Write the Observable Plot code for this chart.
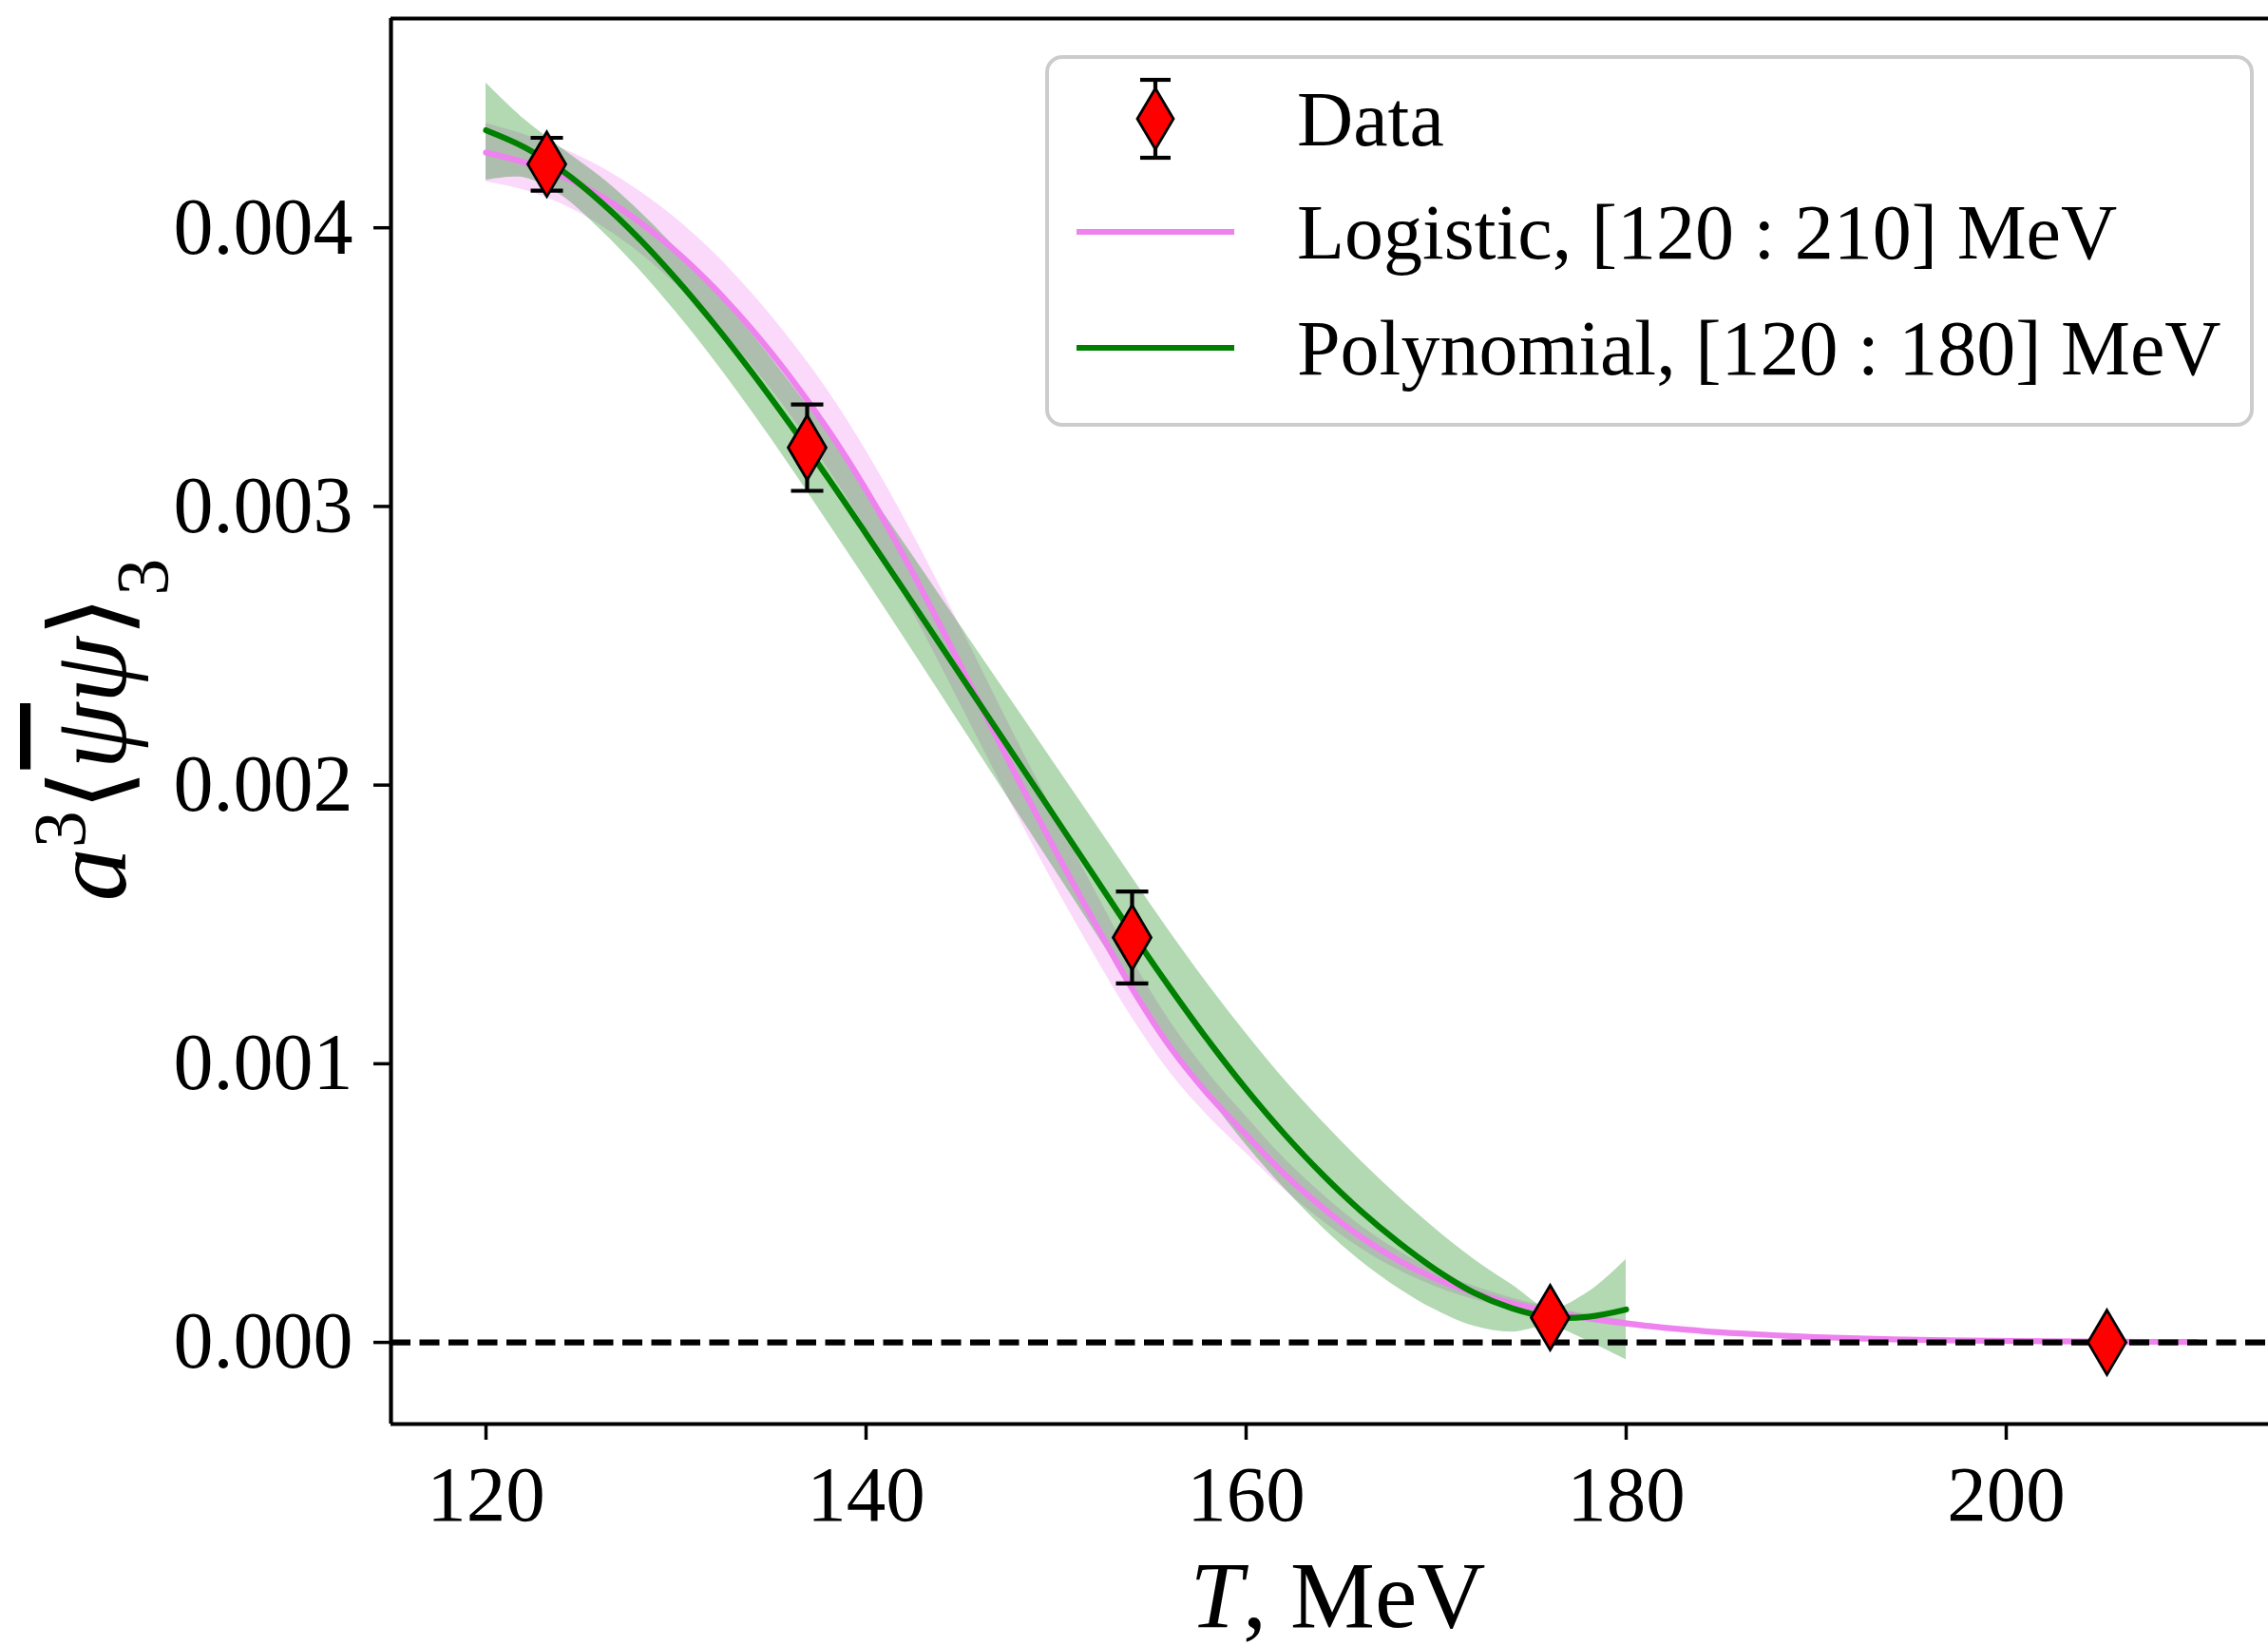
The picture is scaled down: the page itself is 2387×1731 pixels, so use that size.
<!DOCTYPE html>
<html>
<head>
<meta charset="utf-8">
<script src="https://cdn.jsdelivr.net/npm/d3@7"></script>
<script src="https://cdn.jsdelivr.net/npm/@observablehq/plot@0.6"></script>
<style>
  html, body { margin: 0; padding: 0; background: white; }
  svg { display: block; }
</style>
</head>
<body>
<div id="chart"></div>
<script>
// ---------------- data ----------------
const dataT   = [123.2, 136.9, 154.0, 176.0, 205.3];
const dataY   = [0.004228, 0.003211, 0.001453, 0.0000887, 0.0000];
const dataErr = [0.000095, 0.000155, 0.000165, 0.000010, 0.0];

// Logistic fit, [120:210] MeV
const logT  = [120,122,124,126,128,130,132,134,136,138,140,142,144,146,148,150,152,154,156,158,160,162,164,166,168,170,172,174,176,178,180,182,184,186,188,190,194,198,202,206,210];
const logY  = [4.27e-3,4.235e-3,4.185e-3,4.115e-3,4.025e-3,3.915e-3,3.785e-3,3.635e-3,3.465e-3,3.275e-3,3.06e-3,2.82e-3,2.56e-3,2.29e-3,2.02e-3,1.76e-3,1.51e-3,1.27e-3,1.06e-3,0.89e-3,0.745e-3,0.605e-3,0.485e-3,0.38e-3,0.295e-3,0.228e-3,0.178e-3,0.140e-3,0.110e-3,0.087e-3,0.068e-3,0.053e-3,0.041e-3,0.032e-3,0.025e-3,0.019e-3,0.011e-3,0.0065e-3,0.004e-3,0.0025e-3,0.0015e-3];
const logLo = [4.165e-3,4.135e-3,4.085e-3,4.01e-3,3.915e-3,3.797e-3,3.66e-3,3.505e-3,3.33e-3,3.135e-3,2.92e-3,2.68e-3,2.42e-3,2.152e-3,1.886e-3,1.632e-3,1.392e-3,1.165e-3,0.968e-3,0.812e-3,0.679e-3,0.549e-3,0.437e-3,0.339e-3,0.26e-3,0.199e-3,0.154e-3,0.121e-3,0.094e-3,0.074e-3,0.057e-3,0.044e-3,0.033e-3,0.025e-3,0.019e-3,0.014e-3,0.007e-3,0.0035e-3,0.002e-3,0.001e-3,0.0005e-3];
const logHi = [4.375e-3,4.335e-3,4.285e-3,4.22e-3,4.135e-3,4.033e-3,3.91e-3,3.765e-3,3.60e-3,3.415e-3,3.20e-3,2.96e-3,2.70e-3,2.428e-3,2.154e-3,1.888e-3,1.628e-3,1.375e-3,1.152e-3,0.968e-3,0.811e-3,0.661e-3,0.533e-3,0.421e-3,0.33e-3,0.257e-3,0.202e-3,0.159e-3,0.126e-3,0.100e-3,0.079e-3,0.062e-3,0.049e-3,0.039e-3,0.031e-3,0.024e-3,0.015e-3,0.0095e-3,0.006e-3,0.004e-3,0.0025e-3];

// Polynomial fit, [120:180] MeV
const polT  = [120,122,124,126,128,130,132,134,136,138,140,142,144,146,148,150,152,154,156,158,160,162,164,166,168,170,172,174,176,178,180];
const polY  = [4.35e-3,4.29e-3,4.205e-3,4.095e-3,3.965e-3,3.817e-3,3.655e-3,3.48e-3,3.295e-3,3.102e-3,2.902e-3,2.699e-3,2.494e-3,2.289e-3,2.084e-3,1.879e-3,1.674e-3,1.469e-3,1.272e-3,1.084e-3,0.909e-3,0.749e-3,0.604e-3,0.474e-3,0.36e-3,0.26e-3,0.178e-3,0.122e-3,0.09e-3,0.092e-3,0.118e-3];
const polLo = [4.17e-3,4.18e-3,4.115e-3,3.995e-3,3.855e-3,3.697e-3,3.525e-3,3.34e-3,3.145e-3,2.942e-3,2.737e-3,2.529e-3,2.319e-3,2.109e-3,1.899e-3,1.689e-3,1.479e-3,1.269e-3,1.072e-3,0.884e-3,0.709e-3,0.554e-3,0.414e-3,0.294e-3,0.195e-3,0.115e-3,0.058e-3,0.037e-3,0.058e-3,0.004e-3,-0.062e-3];
const polHi = [4.52e-3,4.39e-3,4.285e-3,4.185e-3,4.065e-3,3.927e-3,3.78e-3,3.62e-3,3.445e-3,3.262e-3,3.067e-3,2.869e-3,2.669e-3,2.469e-3,2.269e-3,2.069e-3,1.869e-3,1.669e-3,1.472e-3,1.284e-3,1.109e-3,0.944e-3,0.794e-3,0.654e-3,0.525e-3,0.405e-3,0.298e-3,0.207e-3,0.122e-3,0.18e-3,0.298e-3];

const xTicks = [120, 140, 160, 180, 200];
const yTicks = [0.000, 0.001, 0.002, 0.003, 0.004];
const xDomain = [115, 213.8];
const yDomain = [-0.000293, 0.004751];

const legendLabels = ["Data", "Logistic, [120 : 210] MeV", "Polynomial, [120 : 180] MeV"];

// ---------------- tables ----------------
const points = dataT.map((t, i) => ({T: t, y: dataY[i], lo: dataY[i] - dataErr[i], hi: dataY[i] + dataErr[i]}));
const logistic = logT.map((t, i) => ({T: t, y: logY[i], lo: logLo[i], hi: logHi[i]}));
const poly = polT.map((t, i) => ({T: t, y: polY[i], lo: polLo[i], hi: polHi[i]}));

// custom symbols (pixel-sized)
const thinDiamond = {draw(ctx) { ctx.moveTo(0, -34); ctx.lineTo(20, 0); ctx.lineTo(0, 34); ctx.lineTo(-20, 0); ctx.closePath(); }};
const capSym = {draw(ctx) { ctx.moveTo(-17, 0); ctx.lineTo(17, 0); }};

const FONT = "'Liberation Serif', 'DejaVu Serif', serif";
const LW = 6.2;

const svg = Plot.plot({
  width: 2387,
  height: 1731,
  marginLeft: 411,
  marginRight: 0,
  marginTop: 19,
  marginBottom: 233,
  x: {domain: xDomain},
  y: {domain: yDomain},
  style: {fontFamily: FONT, fontSize: "83px", background: "white", color: "black", overflow: "visible"},
  marks: [
    Plot.areaY(logistic, {x: "T", y1: "lo", y2: "hi", fill: "violet", fillOpacity: 0.3, curve: "catmull-rom"}),
    Plot.areaY(poly, {x: "T", y1: "lo", y2: "hi", fill: "green", fillOpacity: 0.3, curve: "catmull-rom"}),
    Plot.line(logistic, {x: "T", y: "y", stroke: "violet", strokeWidth: LW, curve: "catmull-rom"}),
    Plot.line(poly, {x: "T", y: "y", stroke: "green", strokeWidth: LW, curve: "catmull-rom"}),
    Plot.ruleY([0], {stroke: "black", strokeWidth: LW, strokeDasharray: "21,9.5"}),
    Plot.ruleX(points, {x: "T", y1: "lo", y2: "hi", stroke: "black", strokeWidth: 4.2}),
    Plot.dot(points, {x: "T", y: "lo", symbol: capSym, r: 10, stroke: "black", fill: "none", strokeWidth: 4.2}),
    Plot.dot(points, {x: "T", y: "hi", symbol: capSym, r: 10, stroke: "black", fill: "none", strokeWidth: 4.2}),
    Plot.dot(points, {x: "T", y: "y", symbol: thinDiamond, r: 10, fill: "red", stroke: "black", strokeWidth: 2.8}),
    // spines (left, bottom, top)
    Plot.ruleX([xDomain[0]], {stroke: "black", strokeWidth: 4.2}),
    Plot.ruleY([yDomain[0]], {stroke: "black", strokeWidth: 4.2}),
    Plot.ruleY([yDomain[1]], {stroke: "black", strokeWidth: 4.2}),
    Plot.axisX({ticks: xTicks, tickFormat: d => String(d), tickSize: 17, tickPadding: 26, strokeWidth: 3.5, label: null, fontSize: 83}),
    Plot.axisY({ticks: yTicks, tickFormat: d3.format(".3f"), tickSize: 18, tickPadding: 22, strokeWidth: 3.5, label: null, fontSize: 84})
  ]
});

document.getElementById("chart").appendChild(svg);

const s = d3.select(svg);

// ---- legend ----
const lg = s.append("g").attr("font-family", FONT).attr("font-size", 82).attr("text-anchor", "start");
lg.append("rect").attr("x", 1102).attr("y", 60).attr("width", 1268).attr("height", 387)
  .attr("rx", 16).attr("fill", "white").attr("fill-opacity", 0.8)
  .attr("stroke", "#cccccc").attr("stroke-width", 4);
// Data entry
lg.append("line").attr("x1", 1216).attr("x2", 1216).attr("y1", 84).attr("y2", 166).attr("stroke", "black").attr("stroke-width", 4.2);
lg.append("line").attr("x1", 1200).attr("x2", 1232).attr("y1", 84).attr("y2", 84).attr("stroke", "black").attr("stroke-width", 4.2);
lg.append("line").attr("x1", 1200).attr("x2", 1232).attr("y1", 166).attr("y2", 166).attr("stroke", "black").attr("stroke-width", 4.2);
lg.append("path").attr("d", "M0,-32L19,0L0,32L-19,0Z").attr("transform", "translate(1216,125)")
  .attr("fill", "red").attr("stroke", "black").attr("stroke-width", 2.8);
lg.append("text").attr("x", 1365).attr("y", 153).attr("text-anchor", "start").text(legendLabels[0]);
// Logistic entry
lg.append("line").attr("x1", 1133).attr("x2", 1299).attr("y1", 244).attr("y2", 244).attr("stroke", "violet").attr("stroke-width", LW);
lg.append("text").attr("x", 1365).attr("y", 272).attr("text-anchor", "start").text(legendLabels[1]);
// Polynomial entry
lg.append("line").attr("x1", 1133).attr("x2", 1299).attr("y1", 366).attr("y2", 366).attr("stroke", "green").attr("stroke-width", LW);
lg.append("text").attr("x", 1365).attr("y", 394).attr("text-anchor", "start").text(legendLabels[2]);

// ---- axis titles ----
const xl = s.append("text").attr("x", 1408).attr("y", 1712).attr("text-anchor", "middle")
  .attr("font-family", FONT).attr("font-size", 100);
xl.append("tspan").attr("font-style", "italic").text("T");
xl.append("tspan").text(", MeV");

const yl = s.append("text").attr("transform", "translate(132,768) rotate(-90)").attr("text-anchor", "middle")
  .attr("font-family", FONT).attr("font-size", 112);
yl.append("tspan").attr("font-style", "italic").text("a");
yl.append("tspan").attr("font-size", 78).attr("baseline-shift", "super").text("3");
yl.append("tspan").text("\u27E8");
yl.append("tspan").attr("font-style", "italic").attr("text-decoration", "overline").text("\u03C8");
yl.append("tspan").attr("font-style", "italic").text("\u03C8");
yl.append("tspan").text("\u27E9");
yl.append("tspan").attr("font-size", 78).attr("baseline-shift", "sub").text("3");
</script>
</body>
</html>
